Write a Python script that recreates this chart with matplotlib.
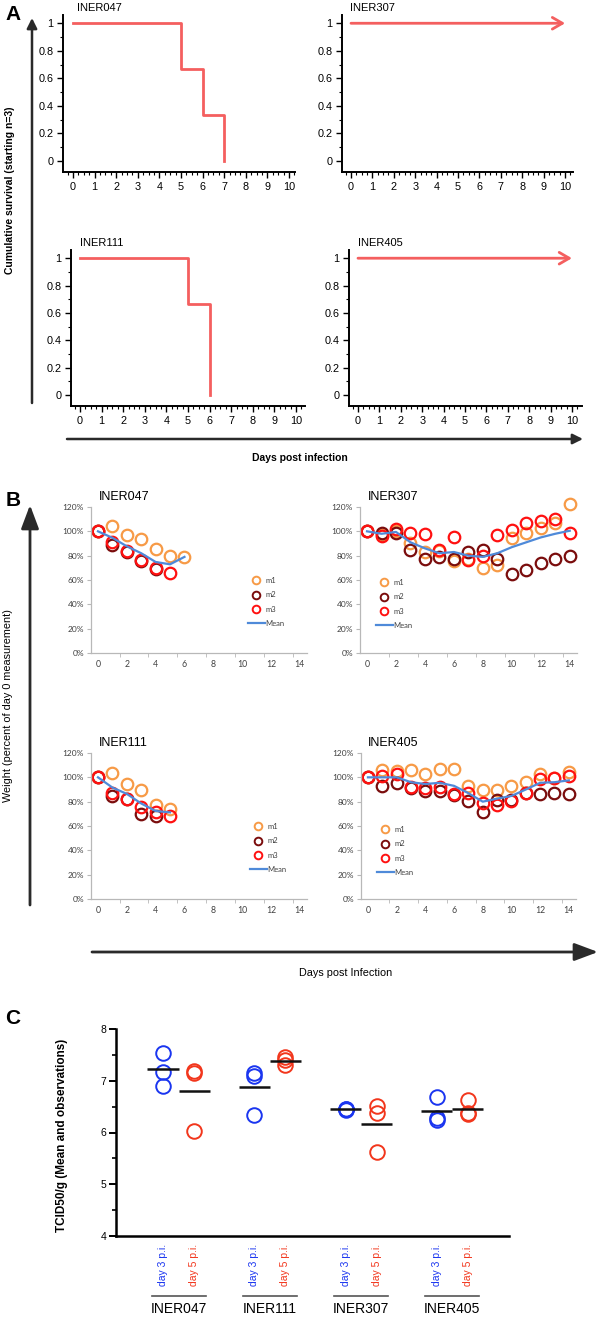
import numpy as np
import matplotlib
matplotlib.use('Agg')
import matplotlib.pyplot as plt
from matplotlib.ticker import FuncFormatter, MultipleLocator, FixedLocator
from matplotlib.lines import Line2D

plt.rcParams['font.family'] = ['Liberation Sans', 'DejaVu Sans']

# ---------------- data ----------------
# A: survival (starting n=3)
days_047 = [0, 5, 6, 7]
surv_047 = [1, 0.667, 0.333, 0]
days_111 = [0, 5, 6]
surv_111 = [1, 0.667, 0]
days_307 = [0, 10]
surv_307 = [1, 1]
days_405 = [0, 10]
surv_405 = [1, 1]

# B: weight, percent of day 0
m1_047 = [100, 104.7, 97, 94, 85.5, 80, 79]
m2_047 = [100, 88.5, 82.7, 75.3, 69]
m3_047 = [100, 91, 83.5, 76.7, 70, 65.8]
mean_047 = [100, 94.7, 87.7, 82, 74.8, 72.9, 79]

m1_111 = [100, 103.3, 94.8, 89.6, 77, 74.3]
m2_111 = [100, 84.7, 82, 70.2, 68.3]
m3_111 = [100, 86.8, 82.5, 75.6, 71.5, 68.2]
mean_111 = [100, 91.6, 86.4, 78.5, 72.3, 71.2]

m1_307 = [100, 97, 100, 90.4, 83, 84, 76, 77, 70, 72, 94.5, 99, 103, 107, 122.7]
m2_307 = [100, 99, 98.6, 85, 77.3, 79, 77.3, 83, 85, 77.3, 65, 68.5, 73.7, 77.5, 80]
m3_307 = [100, 96.4, 102, 98.6, 97.8, 84.7, 95.3, 76.7, 80, 96.7, 101.4, 106.8, 108.8, 110.4, 98.6]
mean_307 = [100, 98, 99.5, 91, 86, 82, 83, 80, 79, 82, 87, 91, 95, 98, 100.5]

m1_405 = [100, 105.7, 105.2, 106, 103, 106.5, 107, 93, 89.6, 89.6, 93, 96.5, 102.5, 99.7, 104.6]
m2_405 = [100, 93, 95, 91.5, 88.8, 88.8, 85.2, 80.5, 71.5, 81.3, 81.3, 87, 86.6, 87.4, 86]
m3_405 = [100, 101, 102.5, 92.4, 91.5, 92.4, 86.6, 87.5, 78.5, 77.4, 80.5, 87.5, 98.4, 99.5, 101]
mean_405 = [100, 100, 100, 96, 94.5, 95.5, 93, 87, 80, 82.5, 84.7, 90, 95.5, 96, 97.5]

# C: TCID50/g
groups = ['INER047', 'INER111', 'INER307', 'INER405']
day3 = [[7.54, 7.17, 6.90], [7.15, 7.10, 6.33], [6.45, 6.44, 6.46], [6.69, 6.28, 6.25]]
day5 = [[7.19, 7.15, 6.03], [7.46, 7.30, 7.40], [6.51, 6.37, 5.62], [6.63, 6.37, 6.36]]
mean3 = [7.23, 6.88, 6.45, 6.42]
mean5 = [6.80, 7.38, 6.17, 6.45]

# ---------------- layout helpers ----------------
W, H = 600, 1317
fig = plt.figure(figsize=(W / 100, H / 100), dpi=100)


def rect(l, t, r, b):
    return [l / W, 1 - b / H, (r - l) / W, (b - t) / H]


SURV = '#f45f5f'

# ---------------- panel A ----------------
def surv_axes(r, xlim, days, surv, arrow, title, tx, ty):
    ax = fig.add_axes(rect(*r))
    if arrow:
        ax.annotate('', xy=(days[-1], surv[-1]), xytext=(days[0], surv[0]),
                    arrowprops=dict(arrowstyle='->,head_length=0.6,head_width=0.35',
                                    color=SURV, lw=2, mutation_scale=12,
                                    shrinkA=0, shrinkB=0))
    else:
        ax.step(days, surv, where='post', color=SURV, lw=2)
    ax.set_xlim(*xlim)
    ax.set_ylim(-0.08, 1.06)
    for s in ['top', 'right']:
        ax.spines[s].set_visible(False)
    for s in ['left', 'bottom']:
        ax.spines[s].set_linewidth(1.4)
    ax.set_xticks(range(0, 11))
    ax.xaxis.set_minor_locator(MultipleLocator(0.25))
    ax.set_yticks([0, 0.2, 0.4, 0.6, 0.8, 1])
    ax.yaxis.set_minor_locator(MultipleLocator(0.1))
    ax.yaxis.set_major_formatter(FuncFormatter(lambda v, p: '%g' % v))
    ax.tick_params(which='major', length=4, width=1, labelsize=7.8, pad=3)
    ax.tick_params(which='minor', length=2, width=0.8)
    ax.patch.set_visible(False)
    fig.text(tx / W, 1 - ty / H, title, fontsize=8, va='center', ha='left')
    return ax


surv_axes((63, 15, 295, 172), (-0.46, 10.28), days_047, surv_047, False, 'INER047', 77, 8)
surv_axes((342, 15, 573, 172), (-0.42, 10.37), days_307, surv_307, True, 'INER307', 350, 8)
surv_axes((71, 250, 305, 406), (-0.42, 10.42), days_111, surv_111, False, 'INER111', 80, 243)
surv_axes((349, 250, 582, 406), (-0.42, 10.47), days_405, surv_405, True, 'INER405', 358, 243)

# ---------------- panel B ----------------
C1, C2, C3, CM = '#f79a46', '#7a0c0c', '#ff1010', '#4f8ad9'


def weight_axes(r, m1, m2, m3, mean, title, tx, ty, leg):
    ax = fig.add_axes(rect(*r))
    kw = dict(ls='none', marker='o', ms=8.3, mfc='none', mew=1.6, clip_on=False)
    ax.plot(range(len(m1)), m1, color=C1, label='m1', **kw)
    ax.plot(range(len(m2)), m2, color=C2, label='m2', **kw)
    ax.plot(range(len(m3)), m3, color=C3, label='m3', **kw)
    ax.plot(range(len(mean)), mean, color=CM, lw=1.6, label='Mean', clip_on=False)
    ax.set_ylim(0, 120)
    ax.set_xlim(-0.485, 14.5)
    ax.set_yticks(range(0, 121, 20))
    ax.yaxis.set_major_formatter(FuncFormatter(lambda v, p: '%d%%' % v))
    ax.set_xticks(range(0, 15, 2))
    ax.xaxis.set_minor_locator(FixedLocator(np.arange(1.5, 14, 2)))
    for s in ['top', 'right']:
        ax.spines[s].set_visible(False)
    for s in ['left', 'bottom']:
        ax.spines[s].set_color('#b8b8b8')
        ax.spines[s].set_linewidth(0.9)
    ax.tick_params(axis='y', length=3, color='#b8b8b8', labelsize=6, labelcolor='#404040', pad=2)
    ax.tick_params(axis='x', which='major', length=0, labelsize=6.3, labelcolor='#404040', pad=5)
    ax.tick_params(axis='x', which='minor', length=3, color='#b8b8b8')
    for lab in ax.get_xticklabels() + ax.get_yticklabels():
        lab.set_family(['Lato', 'DejaVu Sans'])
    ax.patch.set_visible(False)
    handles = [Line2D([], [], ls='none', marker='o', ms=5.5, mfc='none', mew=1.4, color=C1),
               Line2D([], [], ls='none', marker='o', ms=5.5, mfc='none', mew=1.4, color=C2),
               Line2D([], [], ls='none', marker='o', ms=5.5, mfc='none', mew=1.4, color=C3),
               Line2D([], [], color=CM, lw=1.6)]
    lg = ax.legend(handles, ['m1', 'm2', 'm3', 'Mean'], loc='upper left',
                   bbox_to_anchor=(leg[0] / W, 1 - leg[1] / H), bbox_transform=fig.transFigure,
                   frameon=False, fontsize=5.5, handlelength=2.2, handletextpad=0.1,
                   borderpad=0, borderaxespad=0, labelspacing=0.95)
    for t in lg.get_texts():
        t.set_family(['Lato', 'DejaVu Sans'])
        t.set_color('#404040')
    fig.text(tx / W, 1 - ty / H, title, fontsize=9, va='center', ha='left')
    return ax


weight_axes((91, 507, 307, 653), m1_047, m2_047, m3_047, mean_047, 'INER047', 99, 497, (248, 577))
weight_axes((360, 507, 577, 653), m1_307, m2_307, m3_307, mean_307, 'INER307', 368, 497, (376, 579))
weight_axes((91, 753, 307, 899), m1_111, m2_111, m3_111, mean_111, 'INER111', 99, 743, (250, 823))
weight_axes((361, 753, 576, 899), m1_405, m2_405, m3_405, mean_405, 'INER405', 368, 743, (377, 826))

# ---------------- panel C ----------------
BLUE, RED = '#1a35f0', '#f2361c'
axc = fig.add_axes(rect(116, 1029, 509, 1236))
off = 0.17
pos = np.arange(1, len(groups) + 1)
for i in range(len(groups)):
    axc.plot([pos[i] - off] * len(day3[i]), day3[i], ls='none', marker='o', ms=10.5,
             mfc='none', mec=BLUE, mew=1.4)
    axc.plot([pos[i] + off] * len(day5[i]), day5[i], ls='none', marker='o', ms=10.5,
             mfc='none', mec=RED, mew=1.4)
axc.hlines(mean3, pos - 2 * off, pos, color='#111111', lw=1.8)
axc.hlines(mean5, pos, pos + 2 * off, color='#111111', lw=1.8)
axc.set_xlim(0.315, 4.62)
axc.set_ylim(4, 8)
axc.set_yticks([4, 5, 6, 7, 8])
axc.yaxis.set_minor_locator(MultipleLocator(0.5))
axc.tick_params(axis='y', which='major', length=5, width=1.4, labelsize=7.5, pad=2)
axc.tick_params(axis='y', which='minor', length=3, width=1.2)
xt = np.ravel(np.column_stack([pos - off, pos + off]))
axc.set_xticks(xt)
axc.set_xticklabels(['day 3 p.i.', 'day 5 p.i.'] * len(groups), rotation=90, fontsize=7.5)
for k, lab in enumerate(axc.get_xticklabels()):
    lab.set_color(BLUE if k % 2 == 0 else RED)
axc.tick_params(axis='x', length=0, pad=6)
for s in ['top', 'right']:
    axc.spines[s].set_visible(False)
for s in ['left', 'bottom']:
    axc.spines[s].set_linewidth(1.8)
axc.patch.set_visible(False)

# ---------------- overlay: arrows, labels ----------------
ov = fig.add_axes([0, 0, 1, 1])
ov.set_xlim(0, W)
ov.set_ylim(H, 0)
ov.axis('off')
ov.patch.set_visible(False)


def arrow(x0, y0, x1, y1, big):
    if big:
        st = '-|>,head_length=0.72,head_width=0.27'
        ms, lw = 20, 2
    else:
        st = '-|>,head_length=0.6,head_width=0.3'
        ms, lw = 10, 1.8
    ov.annotate('', xy=(x1, y1), xytext=(x0, y0),
                arrowprops=dict(arrowstyle=st, color='#2a2a2a', lw=lw, mutation_scale=ms,
                                shrinkA=0, shrinkB=0))


arrow(32, 403, 32, 18, False)
arrow(67, 439, 583, 439, False)
arrow(30, 905, 30, 505, True)
arrow(92, 952, 598, 952, True)

ov.text(13, 15, 'A', fontsize=15, fontweight='bold', ha='center', va='center')
ov.text(13, 501, 'B', fontsize=15, fontweight='bold', ha='center', va='center')
ov.text(13, 1019, 'C', fontsize=15, fontweight='bold', ha='center', va='center')

ov.text(10, 190, 'Cumulative survival (starting n=3)', rotation=90, fontsize=7.5,
        fontweight='bold', ha='center', va='center')
ov.text(300, 458, 'Days post infection', fontsize=7.5, fontweight='bold', ha='center', va='center')
ov.text(8, 706, 'Weight (percent of day 0 measurement)', rotation=90, fontsize=7.8,
        ha='center', va='center')
ov.text(346, 973, 'Days post Infection', fontsize=7.8, ha='center', va='center')
ov.text(62, 1135, 'TCID50/g (Mean and observations)', rotation=90, fontsize=8.5,
        fontweight='bold', ha='center', va='center')

# group underlines and names below panel C
cx0, cx1 = 116, 509
xl0, xl1 = 0.315, 4.62
for i, g in enumerate(groups):
    xc = cx0 + (pos[i] - xl0) / (xl1 - xl0) * (cx1 - cx0)
    ov.plot([xc - 27, xc + 27], [1296, 1296], color='#555555', lw=1.2)
    ov.text(xc, 1309, g, fontsize=10, ha='center', va='center')

fig.savefig('out.png', dpi=100)
